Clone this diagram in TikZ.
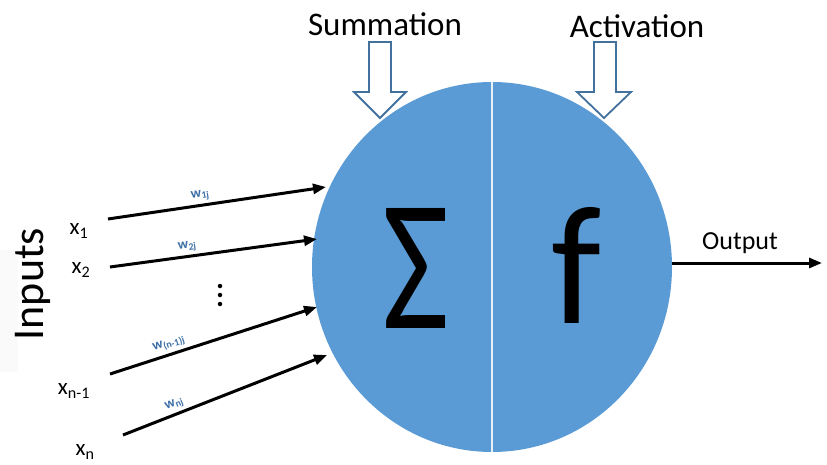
\documentclass[tikz,border=0pt]{standalone}
\usepackage{fontspec}
\setmainfont{Carlito}
\usetikzlibrary{arrows.meta,shapes.geometric}
\definecolor{nblue}{HTML}{5B9BD5}
\definecolor{oblue}{HTML}{41719C}
\definecolor{wblue}{HTML}{3A6EA5}
\begin{document}
\begin{tikzpicture}[x=1pt,y=-1pt,
  inarrow/.style={line width=3pt,-{Triangle[length=13pt,width=10pt]}},
  wlab/.style={font=\fontsize{14}{15}\selectfont\bfseries, text=wblue, sloped, above, inner sep=3pt},
  xlab/.style={font=\fontsize{23}{24}\selectfont, inner sep=0pt},
  blockarrow/.style={draw=oblue, line width=1.8pt, fill=white, line join=miter},
  toplab/.style={font=\fontsize{33}{35}\selectfont, inner sep=0pt},
  neuronstyle/.style={ellipse, fill=nblue, minimum width=360pt, minimum height=370pt, inner sep=0pt},
  dotstyle/.style={circle, fill=black, inner sep=0pt, minimum size=4.5pt}
]
\useasboundingbox (0,0) rectangle (827,465);
\fill[gray!4] (0,250) rectangle (18,372);

% neuron
\node[neuronstyle] (neuron) at (492,267) {};
\draw[white!85!nblue, line width=2.2pt] (neuron.north) -- (neuron.south);
\node (sigma) at (416,268) {\resizebox{67pt}{120pt}{Σ}};
\node (func) at (577,265) {\resizebox{50pt}{116pt}{f}};

% top labels and block arrows
\node[toplab] (summ) at (385,24) {Summation};
\node[toplab] (act) at (637,26) {Activation};
\draw[blockarrow] (369,42) -- (391,42) -- (391,92) -- (406,92) -- (380,118) -- (354,92) -- (369,92) -- cycle;
\draw[blockarrow] (594,42) -- (616,42) -- (616,92) -- (631,92) -- (604,118) -- (577,92) -- (594,92) -- cycle;

% inputs
\node[font=\fontsize{44}{46}\selectfont, rotate=90, inner sep=0pt] (inputs) at (33,284) {Inputs};
\node[xlab] (x1) at (79,231) {x\textsubscript{1}};
\node[xlab] (x2) at (81,270) {x\textsubscript{2}};
\node[xlab] (xn1) at (74,391) {x\textsubscript{n-1}};
\node[xlab] (xn) at (85,452) {x\textsubscript{n}};

\coordinate (s1) at (108,219); \coordinate (e1) at (326,187);
\coordinate (s2) at (110,267); \coordinate (e2) at (317,239);
\coordinate (s3) at (110,374); \coordinate (e3) at (317,307);
\coordinate (s4) at (123,435); \coordinate (e4) at (327,355);

\draw[inarrow] (s1) -- node[wlab, pos=0.43] {w\textsubscript{1j}} (e1);
\draw[inarrow] (s2) -- node[wlab, pos=0.38] {w\textsubscript{2j}} (e2);
\draw[inarrow] (s3) -- node[wlab, pos=0.30] {w\textsubscript{(n-1)j}} (e3);
\draw[inarrow] (s4) -- node[wlab, pos=0.27] {w\textsubscript{nj}} (e4);

\node[dotstyle] (d1) at (220,286) {};
\node[dotstyle] (d2) at (220,295) {};
\node[dotstyle] (d3) at (220,304) {};

% output
\coordinate (o1) at (672,263);
\coordinate (o2) at (822,263);
\draw[inarrow] (o1) -- (o2);
\node[font=\fontsize{26}{28}\selectfont, inner sep=0pt] (outlab) at (740,243) {Output};
\end{tikzpicture}
\end{document}
